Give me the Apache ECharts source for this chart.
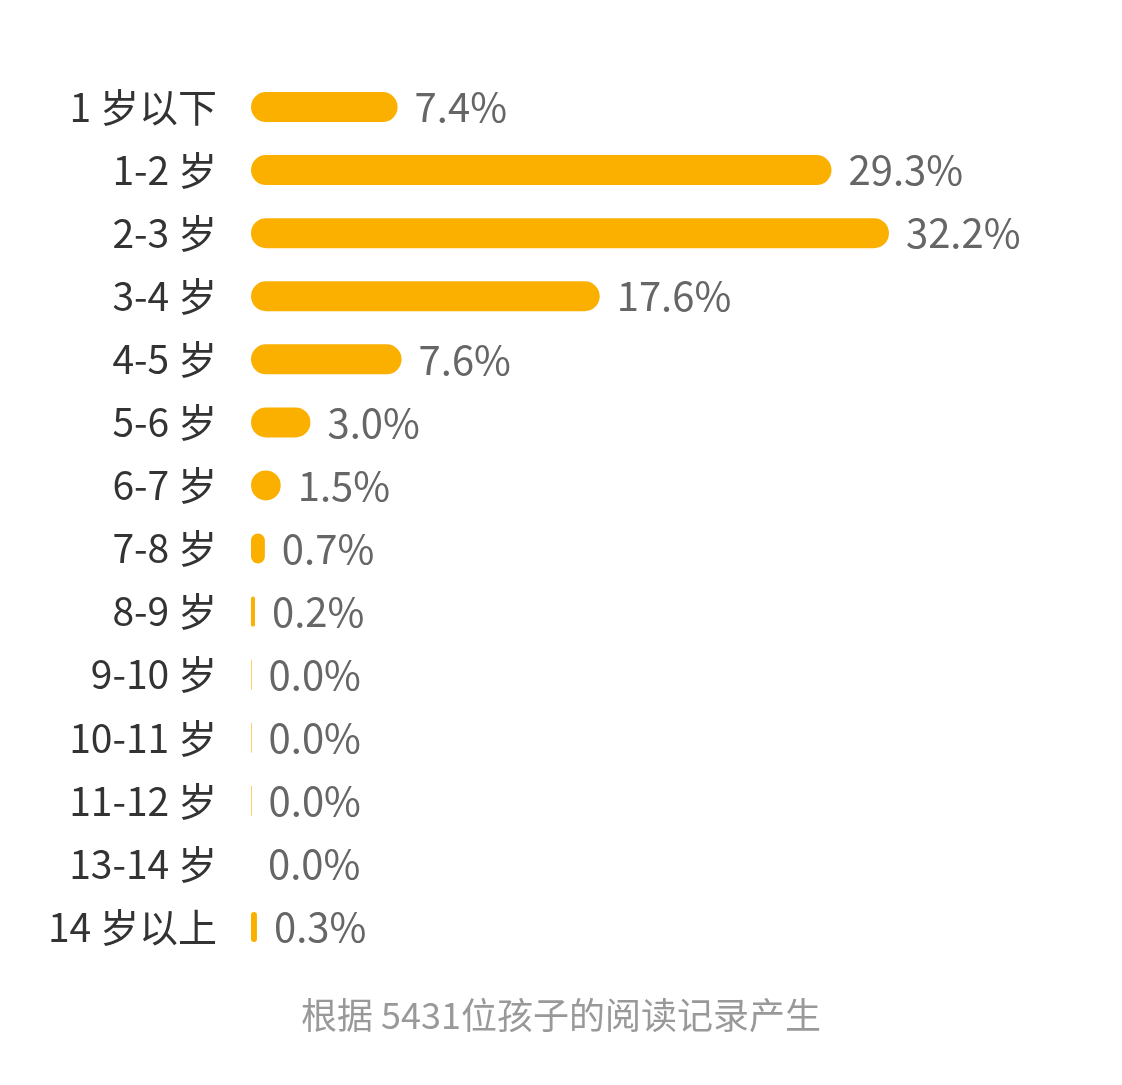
<!DOCTYPE html>
<html><head><meta charset="utf-8">
<script src="https://cdn.jsdelivr.net/npm/echarts@6/dist/echarts.min.js"></script>
<style>html,body{margin:0;padding:0;background:#fff}#c{width:1122px;height:1085px}</style>
</head><body><div id="c"></div>
<script>
const categories = ['1 岁以下','1-2 岁','2-3 岁','3-4 岁','4-5 岁','5-6 岁','6-7 岁','7-8 岁','8-9 岁','9-10 岁','10-11 岁','11-12 岁','13-14 岁','14 岁以上'];
const percentages = [7.4, 29.3, 32.2, 17.6, 7.6, 3.0, 1.5, 0.7, 0.2, 0.03, 0.03, 0.03, 0, 0.3];
const footnote = '根据 5431位孩子的阅读记录产生';

const chart = echarts.init(document.getElementById('c'), null, {renderer: 'canvas'});
const font = '"Noto Sans CJK SC", "Noto Sans", sans-serif';
chart.setOption({
  backgroundColor: '#fff',
  animation: false,
  title: {
    text: footnote, left: 'center', top: 992,
    textStyle: {color: '#999', fontSize: 36, fontWeight: 'normal', fontFamily: font}
  },
  grid: {left: 251, top: 75.5, bottom: 126.5, right: 78.5, containLabel: false},
  xAxis: {type: 'value', min: 0, max: 40, show: false},
  yAxis: {
    type: 'category', data: categories, inverse: true,
    axisLine: {show: false}, axisTick: {show: false}, splitLine: {show: false},
    axisLabel: {color: '#333', fontSize: 39, fontFamily: font, margin: 34}
  },
  series: [{
    type: 'bar', data: percentages, barWidth: 30,
    itemStyle: {color: '#FBB000', borderRadius: 15},
    label: {
      show: true, position: 'right', distance: 17,
      color: '#666', fontSize: 40, fontFamily: font,
      formatter: p => p.value.toFixed(1) + '%'
    }
  }]
});
</script></body></html>
